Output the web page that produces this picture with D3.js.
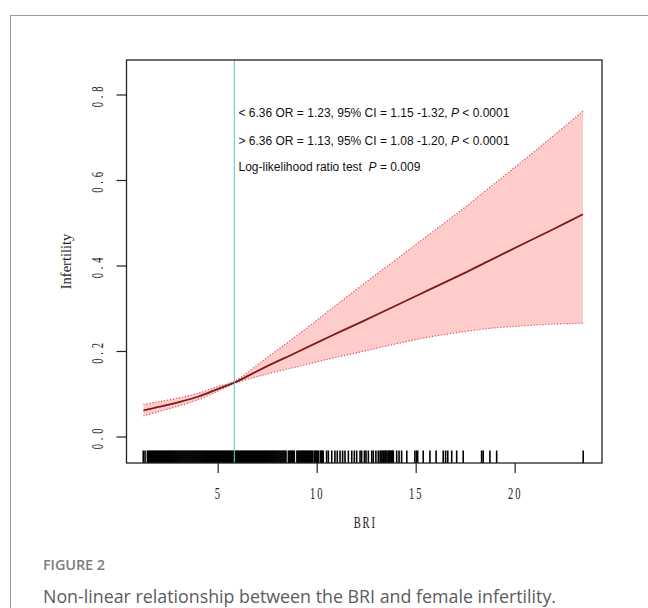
<!DOCTYPE html>
<html>
<head>
<meta charset="utf-8">
<script src="https://cdn.jsdelivr.net/npm/d3@7"></script>
<style>
  html, body { margin: 0; padding: 0; background: #fff; }
  svg { display: block; }
</style>
</head>
<body>
<svg id="chart" width="648" height="608"></svg>
<script>
// ---------------- data ----------------
const bri   = [1.25, 2, 3, 4, 5, 5.84, 7.3, 9.0, 10.67, 12.35, 14.04, 15.72, 17.4, 18.75, 20.5, 22, 23.45];
const fit   = [0.061, 0.069, 0.080, 0.093, 0.111, 0.126, 0.160, 0.197, 0.234, 0.270, 0.307, 0.344, 0.381, 0.412, 0.452, 0.486, 0.520];
const lower = [0.048, 0.058, 0.071, 0.086, 0.106, 0.124, 0.144, 0.163, 0.182, 0.199, 0.217, 0.233, 0.245, 0.253, 0.259, 0.263, 0.265];
const upper = [0.075, 0.081, 0.090, 0.101, 0.117, 0.129, 0.178, 0.236, 0.296, 0.356, 0.415, 0.474, 0.533, 0.583, 0.648, 0.705, 0.761];
const cutPoint = 5.84;
const xTicks = [5, 10, 15, 20];
const yTicks = [0.0, 0.2, 0.4, 0.6, 0.8];
const yTickLabels = ["0.0", "0.2", "0.4", "0.6", "0.8"];
const rug = [
  1.24, 1.33,
  1.45, 1.5, 1.55, 1.6, 1.65, 1.7, 1.75, 1.8, 1.85, 1.9, 1.95,
  2, 2.05, 2.1, 2.15, 2.2, 2.25, 2.3, 2.35, 2.4, 2.45, 2.5, 2.55, 2.6, 2.65, 2.7, 2.75, 2.8, 2.85, 2.9, 2.95,
  3, 3.05, 3.1, 3.15, 3.2, 3.25, 3.3, 3.35, 3.4, 3.45, 3.5, 3.55, 3.6, 3.65, 3.7, 3.75, 3.8, 3.85, 3.9, 3.95,
  4, 4.05, 4.1, 4.15, 4.2, 4.25, 4.3, 4.35, 4.4, 4.45, 4.5, 4.55, 4.6, 4.65, 4.7, 4.75, 4.8, 4.85, 4.9, 4.95,
  5, 5.05, 5.1, 5.15, 5.2, 5.25, 5.3, 5.35, 5.4, 5.45, 5.5, 5.55, 5.6, 5.65, 5.7, 5.75, 5.8, 5.85, 5.9, 5.95,
  6, 6.05, 6.1, 6.15, 6.2, 6.25, 6.3, 6.35, 6.4, 6.45, 6.5, 6.55, 6.6, 6.65, 6.7, 6.75, 6.8, 6.85, 6.9, 6.95,
  7, 7.05, 7.1, 7.15, 7.2, 7.25, 7.3, 7.35, 7.4, 7.45, 7.5, 7.55, 7.6, 7.65, 7.7, 7.75, 7.8, 7.85, 7.9, 7.95,
  8, 8.05, 8.1, 8.15, 8.2, 8.25, 8.3, 8.35, 8.4, 8.45,
  8.57, 8.62, 8.67, 8.72, 8.77, 8.82, 8.87,
  9.0, 9.05, 9.1, 9.15, 9.2, 9.25, 9.3, 9.35, 9.4, 9.45, 9.5, 9.55, 9.6, 9.65, 9.7, 9.75, 9.8,
  9.88, 9.93, 9.98, 10.03, 10.08,
  10.18, 10.23, 10.28, 10.33,
  10.5, 10.59, 10.76, 10.92, 11.04, 11.18, 11.31, 11.43, 11.6, 11.77, 11.9, 12.02, 12.19, 12.27,
  12.41, 12.49, 12.61, 12.78, 12.86, 12.99, 13.11, 13.2, 13.25, 13.3, 13.36, 13.4, 13.45, 13.5,
  13.55, 13.62, 13.66, 13.7, 13.75, 13.79, 13.83, 13.87,
  14.04, 14.16, 14.29, 14.55, 14.96, 15.05, 15.1, 15.38, 15.72, 16.03, 16.39, 16.51, 16.62,
  16.82, 17.07, 17.4, 18.33, 18.41, 18.75, 19.09, 23.46
];
const annotations = [
  ["< 6.36 OR = 1.23, 95% CI = 1.15 -1.32, ", "P", " < 0.0001"],
  ["> 6.36 OR = 1.13, 95% CI = 1.08 -1.20, ", "P", " < 0.0001"],
  ["Log-likelihood ratio test\u00A0 ", "P", " = 0.009"]
];
const xTitle = "BRI";
const yTitle = "Infertility";
const figLabel = "FIGURE 2";
const figCaption = "Non-linear relationship between the BRI and female infertility.";

// ---------------- layout ----------------
const svg = d3.select("#chart");
const plot = {left: 126.5, right: 602, top: 60, bottom: 463};

const x = d3.scaleLinear().domain([0.394, 24.41]).range([plot.left, plot.right]);
const y = d3.scaleLinear().domain([-0.062, 0.8807]).range([plot.bottom, plot.top]);

// card border
svg.append("rect")
  .attr("x", 10.5).attr("y", 15.5).attr("width", 700).attr("height", 700)
  .attr("fill", "none").attr("stroke", "#9a9a9a").attr("stroke-width", 1);

const pts = bri.map((b, i) => ({b, f: fit[i], lo: lower[i], hi: upper[i]}));
const curve = d3.curveCatmullRom.alpha(0.5);

// CI band
svg.append("path")
  .datum(pts)
  .attr("fill", "#ffcccc")
  .attr("d", d3.area().x(d => x(d.b)).y0(d => y(d.lo)).y1(d => y(d.hi)).curve(curve));

// dotted CI borders
["lo", "hi"].forEach(k => {
  svg.append("path")
    .datum(pts)
    .attr("fill", "none")
    .attr("stroke", "#d9505e")
    .attr("stroke-width", 1.2)
    .attr("stroke-dasharray", "1.2,1.8")
    .attr("d", d3.line().x(d => x(d.b)).y(d => y(d[k])).curve(curve));
});

// fitted line
svg.append("path")
  .datum(pts)
  .attr("fill", "none")
  .attr("stroke", "#7a1a1a")
  .attr("stroke-width", 1.8)
  .attr("d", d3.line().x(d => x(d.b)).y(d => y(d.f)).curve(curve));

// rug
svg.append("g").selectAll("line")
  .data(rug).join("line")
  .attr("x1", d => x(d)).attr("x2", d => x(d))
  .attr("y1", plot.bottom).attr("y2", plot.bottom - 12.5)
  .attr("stroke", "#000").attr("stroke-width", 1.6);

// cut-point line
svg.append("line")
  .attr("x1", x(cutPoint)).attr("x2", x(cutPoint))
  .attr("y1", plot.top).attr("y2", plot.bottom)
  .attr("stroke", "#5fcfc4").attr("stroke-width", 1.1);

// box
svg.append("rect")
  .attr("x", plot.left).attr("y", plot.top)
  .attr("width", plot.right - plot.left).attr("height", plot.bottom - plot.top)
  .attr("fill", "none").attr("stroke", "#222").attr("stroke-width", 1.3);

// x axis
const xAxis = svg.append("g").attr("transform", `translate(0,${plot.bottom})`)
  .call(d3.axisBottom(x).tickValues(xTicks).tickSize(10).tickFormat(d3.format("d")));
xAxis.select(".domain").remove();
xAxis.selectAll(".tick line").attr("stroke", "#222").attr("stroke-width", 1.2);
xAxis.selectAll(".tick text").remove();
xAxis.selectAll(".tick").append("g")
  .attr("transform", "translate(0,36) scale(0.62,1)")
  .append("text")
  .attr("text-anchor", "middle")
  .attr("font-family", "'Liberation Serif', serif")
  .attr("font-size", 17)
  .attr("letter-spacing", 3)
  .attr("fill", "#222")
  .text(d => d);

// y axis
const yAxis = svg.append("g").attr("transform", `translate(${plot.left},0)`)
  .call(d3.axisLeft(y).tickValues(yTicks).tickSize(10));
yAxis.select(".domain").remove();
yAxis.selectAll(".tick line").attr("stroke", "#222").attr("stroke-width", 1.2);
yAxis.selectAll(".tick text").remove();
yAxis.selectAll(".tick").append("g")
  .attr("transform", "translate(-24,0) rotate(-90) scale(0.62,1)")
  .append("text")
  .attr("text-anchor", "middle")
  .attr("font-family", "'Liberation Serif', serif")
  .attr("font-size", 17)
  .attr("letter-spacing", 6)
  .attr("fill", "#222")
  .text((d, i) => yTickLabels[i]);

// axis titles
svg.append("g")
  .attr("transform", `translate(${(plot.left + plot.right) / 2 + 1},528) scale(0.62,1)`)
  .append("text")
  .attr("text-anchor", "middle")
  .attr("font-family", "'Liberation Serif', serif")
  .attr("font-size", 17)
  .attr("letter-spacing", 3)
  .attr("fill", "#222")
  .text(xTitle);

svg.append("text")
  .attr("transform", `translate(71,${(plot.top + plot.bottom) / 2}) rotate(-90)`)
  .attr("text-anchor", "middle")
  .attr("font-family", "'Liberation Serif', serif")
  .attr("font-size", 14.5)
  .attr("fill", "#222")
  .text(yTitle);

// annotations
const baselines = [117, 145, 170.5];
annotations.forEach((parts, i) => {
  const t = svg.append("text")
    .attr("x", 238.5).attr("y", baselines[i])
    .attr("font-family", "'Liberation Sans', Arial, sans-serif")
    .attr("font-size", 12)
    .attr("fill", "#111");
  t.append("tspan").text(parts[0]);
  t.append("tspan").attr("font-style", "italic").text(parts[1]);
  t.append("tspan").text(parts[2]);
});

// caption
svg.append("text")
  .attr("x", 43).attr("y", 570)
  .attr("font-family", "'Open Sans', sans-serif")
  .attr("font-size", 14.5)
  .attr("font-weight", 600)
  .attr("fill", "#7d7d7d")
  .attr("textLength", 62)
  .text(figLabel);

svg.append("text")
  .attr("x", 43).attr("y", 603)
  .attr("font-family", "'Open Sans', sans-serif")
  .attr("font-size", 18.5)
  .attr("fill", "#5c5c5c")
  .attr("textLength", 513)
  .attr("lengthAdjust", "spacingAndGlyphs")
  .text(figCaption);
</script>
</body>
</html>
